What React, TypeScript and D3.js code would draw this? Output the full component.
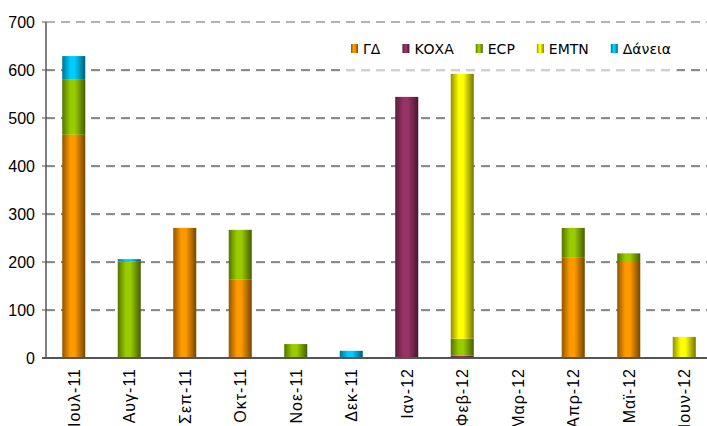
import { useEffect, useRef } from "react";
import * as d3 from "d3";

const months = ["Ιουλ-11", "Αυγ-11", "Σεπ-11", "Οκτ-11", "Νοε-11", "Δεκ-11", "Ιαν-12", "Φεβ-12", "Μαρ-12", "Απρ-12", "Μαϊ-12", "Ιουν-12"];
const seriesNames = ["ΓΔ", "ΚΟΧΑ", "ECP", "EMTN", "Δάνεια"];
const seriesColors = ["#FF9900", "#993366", "#99CC00", "#FFFF00", "#00CCFF"];

const gd = [465, 0, 271, 163, 0, 0, 0, 0, 0, 210, 200, 0];
const koxa = [0, 0, 0, 0, 0, 0, 544, 5, 0, 0, 0, 0];
const ecp = [116, 201, 0, 104, 29, 0, 0, 35, 0, 61, 18, 0];
const emtn = [0, 0, 0, 0, 0, 0, 0, 552, 0, 0, 0, 44];
const daneia = [48, 5, 0, 0, 0, 15, 0, 0, 0, 0, 0, 0];

const yTicks = [0, 100, 200, 300, 400, 500, 600, 700];

const arial = "'Liberation Sans', Arial, sans-serif";
const verdana = "'DejaVu Sans', Verdana, sans-serif";

function renderChart(el: SVGSVGElement) {
  const w = 707,
    h = 426;
  const svg = d3.select(el);
  svg.selectAll("*").remove();
  svg.attr("width", w).attr("height", h);

  const rows = months.map((m, i) => ({
    month: m,
    "ΓΔ": gd[i],
    "ΚΟΧΑ": koxa[i],
    ECP: ecp[i],
    EMTN: emtn[i],
    "Δάνεια": daneia[i],
  }));
  const stacked = d3.stack<any>().keys(seriesNames)(rows);

  const x = d3.scaleBand().domain(months).range([46, 712]).paddingInner(0.585).paddingOuter(0.2925);
  const y = d3.scaleLinear().domain([0, 700]).range([358, 22]);

  // gradients for the cylinder-like bars
  const defs = svg.append("defs");
  seriesNames.forEach((s, i) => {
    const c = seriesColors[i];
    const g = defs.append("linearGradient").attr("id", "grad" + i).attr("x1", "0").attr("x2", "1").attr("y1", "0").attr("y2", "0");
    g.append("stop").attr("offset", "0%").attr("stop-color", d3.color(c)!.darker(1.6).formatHex());
    g.append("stop").attr("offset", "35%").attr("stop-color", c);
    g.append("stop").attr("offset", "55%").attr("stop-color", c);
    g.append("stop").attr("offset", "100%").attr("stop-color", d3.color(c)!.darker(2.2).formatHex());
  });

  // gridlines
  yTicks.slice(1).forEach((t) => {
    const top = t === 700;
    if (!top) {
      svg
        .append("line")
        .attr("x1", 46)
        .attr("x2", 712)
        .attr("y1", y(t) + 1)
        .attr("y2", y(t) + 1)
        .attr("stroke", "#d8d8d8")
        .attr("stroke-dasharray", "9,6");
    }
    svg
      .append("line")
      .attr("x1", 46)
      .attr("x2", 712)
      .attr("y1", y(t))
      .attr("y2", y(t))
      .attr("stroke", top ? "#999" : "#222")
      .attr("stroke-width", top ? 1.5 : 1.2)
      .attr("stroke-dasharray", "9,6");
  });

  // legend box (semi transparent) over the plot
  const legend = svg.append("g");
  legend.append("rect").attr("x", 340).attr("y", 28).attr("width", 337).attr("height", 43).attr("fill", "#fff").attr("fill-opacity", 0.6);

  // bars
  stacked.forEach((layer, i) => {
    svg
      .append("g")
      .selectAll("rect")
      .data(layer.filter((d) => d[1] - d[0] > 0))
      .join("rect")
      .attr("x", (d) => x(d.data.month)!)
      .attr("width", x.bandwidth())
      .attr("y", (d) => y(d[1]))
      .attr("height", (d) => y(d[0]) - y(d[1]))
      .attr("fill", `url(#grad${i})`);
  });

  // y axis
  svg.append("line").attr("x1", 46).attr("x2", 46).attr("y1", 22).attr("y2", 358).attr("stroke", "#555").attr("stroke-width", 1.5);
  yTicks.forEach((t) => {
    svg.append("line").attr("x1", 42).attr("x2", 46).attr("y1", y(t)).attr("y2", y(t)).attr("stroke", "#555");
    svg
      .append("text")
      .attr("x", 35)
      .attr("y", y(t))
      .attr("dy", "0.36em")
      .attr("text-anchor", "end")
      .attr("font-family", arial)
      .attr("font-size", 16)
      .attr("fill", "#000")
      .text(t);
  });

  // x axis
  svg.append("line").attr("x1", 42).attr("x2", 712).attr("y1", 358).attr("y2", 358).attr("stroke", "#555").attr("stroke-width", 2);
  months.forEach((m) => {
    const cx = x(m)! + x.bandwidth() / 2;
    svg
      .append("text")
      .attr("transform", `translate(${cx},368) rotate(-90)`)
      .attr("dy", "0.36em")
      .attr("text-anchor", "end")
      .attr("font-family", arial)
      .attr("font-size", 16)
      .attr("letter-spacing", 1)
      .text(m);
  });

  // legend items
  let lx = 351;
  seriesNames.forEach((s, i) => {
    legend.append("rect").attr("x", lx).attr("y", 44).attr("width", 7).attr("height", 9).attr("fill", `url(#grad${i})`);
    const t = legend
      .append("text")
      .attr("x", lx + 12)
      .attr("y", 48.5)
      .attr("dy", "0.36em")
      .attr("font-family", verdana)
      .attr("font-size", 14)
      .text(s);
    const tw = (t.node() as SVGTextElement).getComputedTextLength();
    lx += 12 + tw + 22;
  });
}

export default function App() {
  const ref = useRef<SVGSVGElement>(null);
  useEffect(() => {
    if (ref.current) renderChart(ref.current);
  }, []);
  return <svg ref={ref} style={{ position: "absolute", left: 0, top: 0, background: "#fff" }} />;
}
